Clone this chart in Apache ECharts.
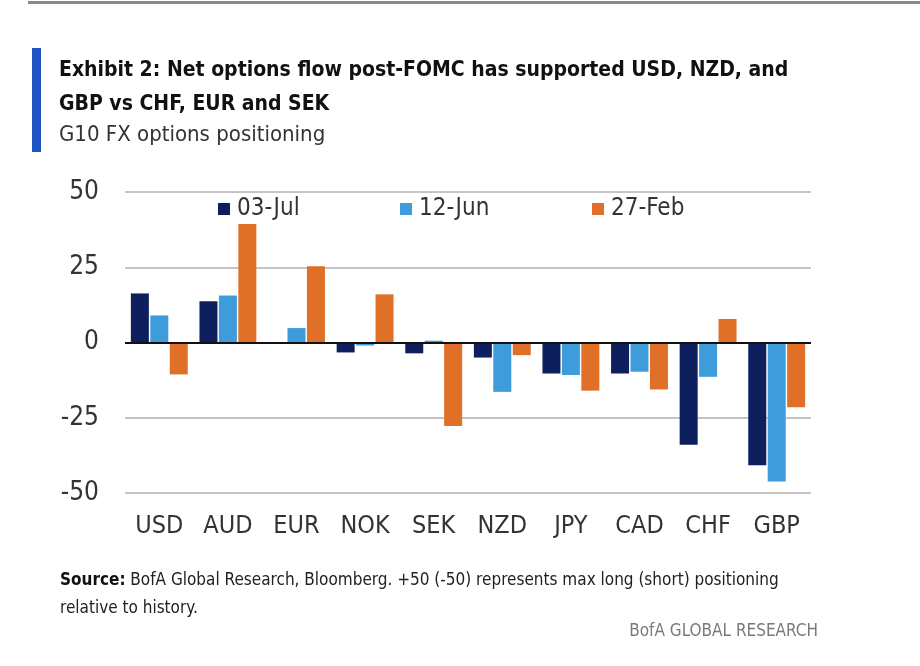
<!DOCTYPE html>
<html>
<head>
<meta charset="utf-8">
<title>G10 FX options positioning</title>
<script src="https://cdn.jsdelivr.net/npm/echarts@6/dist/echarts.min.js"></script>
<style>
    html, body { margin: 0; padding: 0; background: #fff; }
    #chart { width: 920px; height: 666px; }
</style>
</head>
<body>
<div id="chart"></div>
<script>
/* 数据 */
var categories = ['USD', 'AUD', 'EUR', 'NOK', 'SEK', 'NZD', 'JPY', 'CAD', 'CHF', 'GBP'];
var seriesNames = ['03-Jul', '12-Jun', '27-Feb'];
var jul03 = [16.3, 13.7, 0, -3.3, -3.6, -5, -10.3, -10.3, -34, -40.8];
var jun12 = [9, 15.6, 4.8, -1, 0.6, -16.4, -10.8, -9.7, -11.4, -46.2];
var feb27 = [-10.6, 39.4, 25.3, 16, -27.7, -4.2, -16, -15.6, 7.8, -21.5];
var yTicks = [-50, -25, 0, 25, 50];

(function () {
    'use strict';

    var FONT = '"Liberation Sans Narrow", "DejaVu Sans Condensed", sans-serif';
    var colors = ['#0d1f5c', '#3f9cda', '#e06f28'];
    var values = [jul03, jun12, feb27];
    var legendLeft = [218, 400, 592];

    var chart = echarts.init(document.getElementById('chart'));

    /*三个图例分开摆放*/
    var legends = seriesNames.map(function (name, i) {
        return {
            data: [name],
            left: legendLeft[i],
            top: 197,
            padding: 0,
            itemWidth: 12,
            itemHeight: 12,
            icon: 'rect',
            selectedMode: false,
            textStyle: { fontFamily: FONT, fontSize: 24, color: '#333', padding: [0, 0, 0, 2] }
        };
    });

    var series = seriesNames.map(function (name, i) {
        var s = {
            name: name,
            type: 'bar',
            data: values[i],
            barWidth: 18,
            barGap: '8%',
            itemStyle: { color: colors[i] },
            animation: false
        };
        /*零线*/
        if (i === 0) {
            s.markLine = {
                silent: true,
                symbol: 'none',
                label: { show: false },
                lineStyle: { color: '#111', width: 2, type: 'solid' },
                data: [{ yAxis: 0 }]
            };
        }
        return s;
    });

    var option = {
        backgroundColor: '#fff',
        animation: false,
        color: colors,
        legend: legends,
        grid: { left: 125, right: 109, top: 192, bottom: 173 },
        xAxis: {
            type: 'category',
            data: categories,
            axisLine: { show: false, onZero: false },
            axisTick: { show: false },
            axisLabel: { margin: 21, fontFamily: FONT, fontSize: 25, color: '#333' }
        },
        yAxis: {
            type: 'value',
            min: yTicks[0],
            max: yTicks[yTicks.length - 1],
            interval: 25,
            axisLine: { show: false },
            axisTick: { show: false },
            axisLabel: { margin: 26, fontFamily: FONT, fontSize: 26, color: '#333' },
            splitLine: { lineStyle: { color: '#c4c4c4', width: 2 } }
        },
        series: series,
        graphic: [
            /*顶部灰线*/
            { type: 'rect', shape: { x: 28, y: 1, width: 892, height: 3 }, style: { fill: '#8a8a8a' } },
            /*标题左侧蓝条*/
            { type: 'rect', shape: { x: 32, y: 48, width: 9, height: 104 }, style: { fill: '#1f56c4' } },
            {
                type: 'text', left: 59, top: 54,
                style: {
                    text: 'Exhibit 2: Net options flow post-FOMC has supported USD, NZD, and\nGBP vs CHF, EUR and SEK',
                    fontFamily: FONT, fontSize: 21, fontWeight: 'bold', fill: '#111', lineHeight: 34
                }
            },
            {
                type: 'text', left: 59, top: 124,
                style: { text: 'G10 FX options positioning', fontFamily: FONT, fontSize: 22, fill: '#333' }
            },
            {
                type: 'text', left: 60, top: 567,
                style: {
                    text: '{b|Source:} BofA Global Research, Bloomberg. +50 (-50) represents max long (short) positioning\nrelative to history.',
                    fontFamily: FONT, fontSize: 17, fill: '#222', lineHeight: 28,
                    rich: { b: { fontFamily: FONT, fontSize: 17, fontWeight: 'bold', fill: '#111' } }
                }
            },
            {
                type: 'text', right: 102, top: 623,
                style: { text: 'BofA GLOBAL RESEARCH', fontFamily: FONT, fontSize: 17, fill: '#7a7a7a' }
            }
        ]
    };

    chart.setOption(option);
})();
</script>
</body>
</html>
